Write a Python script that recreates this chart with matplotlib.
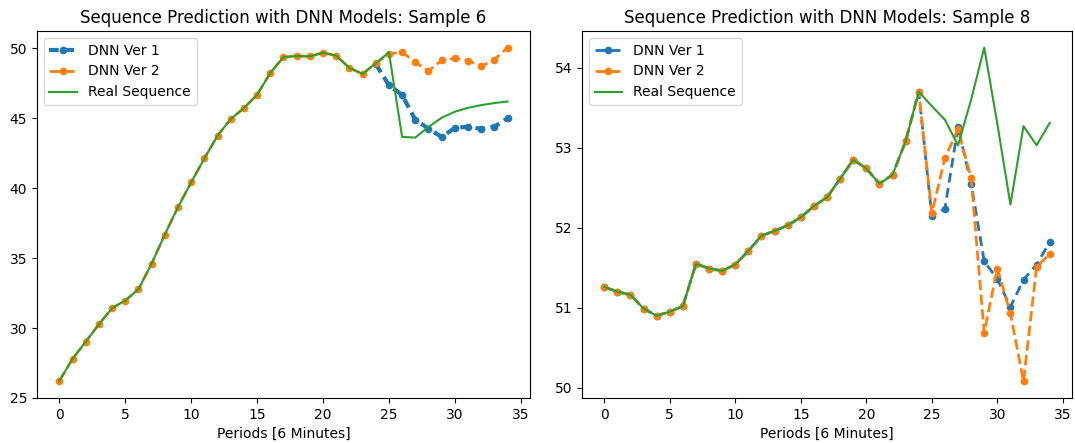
import numpy as np
import matplotlib
matplotlib.use("Agg")
import matplotlib.pyplot as plt

periods = np.arange(35)

# Sample 6 (Ver 1 only shows from period 24 on, the rest sits under Ver 2)
s6_dnn1 = [np.nan] * 24 + [48.88, 47.37, 46.66, 44.90, 44.26, 43.67,
                           44.31, 44.40, 44.24, 44.40, 45.00]
s6_dnn2 = [26.23, 27.80, 29.03, 30.27, 31.43, 31.97, 32.78, 34.61, 36.69, 38.66,
           40.42, 42.13, 43.76, 44.95, 45.73, 46.68, 48.24, 49.38, 49.45, 49.43,
           49.69, 49.48, 48.60, 48.17, 48.93, 49.60, 49.74, 49.00, 48.39, 49.15,
           49.29, 49.12, 48.72, 49.19, 50.05]
s6_real = [26.23, 27.80, 29.03, 30.27, 31.43, 31.97, 32.78, 34.61, 36.69, 38.66,
           40.42, 42.13, 43.76, 44.95, 45.73, 46.68, 48.24, 49.38, 49.45, 49.43,
           49.69, 49.48, 48.60, 48.17, 48.93, 49.72, 43.67, 43.62, 44.38, 45.04,
           45.47, 45.75, 45.94, 46.09, 46.20]

# Sample 8
s8_dnn1 = [51.26, 51.20, 51.16, 50.99, 50.90, 50.95, 51.02, 51.55, 51.49, 51.46,
           51.54, 51.71, 51.90, 51.96, 52.03, 52.13, 52.27, 52.38, 52.61, 52.85,
           52.74, 52.55, 52.66, 53.08, 53.70, 52.15, 52.24, 53.26, 52.55, 51.58,
           51.36, 51.01, 51.35, 51.54, 51.82]
s8_dnn2 = [51.26, 51.20, 51.16, 50.99, 50.90, 50.95, 51.02, 51.55, 51.49, 51.46,
           51.54, 51.71, 51.90, 51.96, 52.03, 52.13, 52.27, 52.38, 52.61, 52.85,
           52.74, 52.55, 52.66, 53.08, 53.70, 52.18, 52.87, 53.23, 52.62, 50.69,
           51.49, 50.93, 50.08, 51.51, 51.67]
s8_real = [51.26, 51.20, 51.16, 50.99, 50.90, 50.95, 51.02, 51.55, 51.49, 51.46,
           51.54, 51.71, 51.90, 51.96, 52.03, 52.13, 52.27, 52.38, 52.61, 52.85,
           52.74, 52.55, 52.66, 53.08, 53.70, 53.52, 53.35, 53.03, 53.60, 54.25,
           53.30, 52.29, 53.27, 53.03, 53.31]

fig = plt.figure(figsize=(10.75, 4.43), dpi=100)
ax1 = fig.add_axes([0.0344, 0.1016, 0.4586, 0.8284])
ax2 = fig.add_axes([0.5414, 0.1016, 0.4558, 0.8284])

def draw(ax, d1, d2, real, title, lw1):
    # dash length in points, independent of line width
    ax.plot(periods, d1, marker="o", color="C0", lw=lw1, ms=4.5, label="DNN Ver 1",
            linestyle=(0, (7.0 / lw1, 4.0 / lw1)))
    ax.plot(periods, d2, "o--", color="C1", lw=2, ms=4.5, label="DNN Ver 2")
    ax.plot(periods, real, "-", color="C2", lw=1.5, label="Real Sequence")
    ax.set_title(title)
    ax.set_xlabel("Periods [6 Minutes]")
    ax.legend(loc="upper left")

draw(ax1, s6_dnn1, s6_dnn2, s6_real, "Sequence Prediction with DNN Models: Sample 6", 3)
draw(ax2, s8_dnn1, s8_dnn2, s8_real, "Sequence Prediction with DNN Models: Sample 8", 2)
ax1.set_ylim(bottom=25)

fig.savefig("out.png", dpi=100)
